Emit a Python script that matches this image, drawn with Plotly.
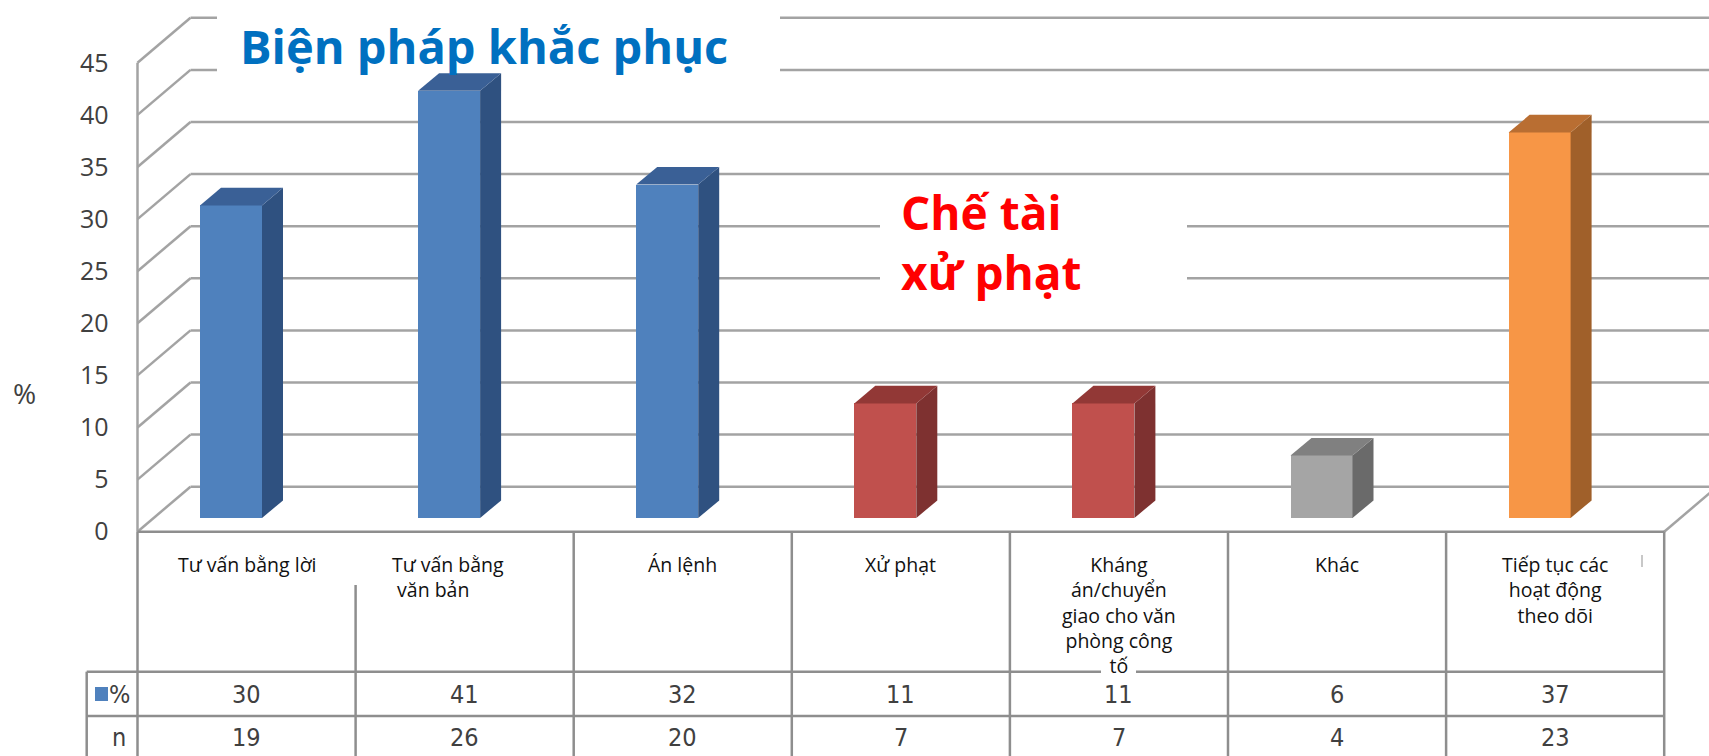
import plotly.graph_objects as go

# ---------------- data ----------------
categories = [
    "Tư vấn bằng lời",
    "Tư vấn bằng<br>\u00a0văn bản",
    "Án lệnh",
    "Xử phạt",
    "Kháng<br>án/chuyển<br>giao cho văn<br>phòng công<br>tố",
    "Khác",
    "Tiếp tục các<br>hoạt động<br>theo dõi",
]
pct = [30, 41, 32, 11, 11, 6, 37]
n_counts = [19, 26, 20, 7, 7, 4, 23]
groups = ["remedy", "remedy", "remedy", "sanction", "sanction", "other", "follow"]
y_ticks = [0, 5, 10, 15, 20, 25, 30, 35, 40, 45]
y_axis_label = "%"
row_labels = ["%", "n"]
title_remedy = "Biện pháp khắc phục"
title_sanction = "Chế tài<br>xử phạt"

# ---------------- styles ----------------
COLORS = {
    "remedy":   dict(front="#4F81BD", side="#2F5180", top="#3A6096"),
    "sanction": dict(front="#C0504D", side="#7E3130", top="#923836"),
    "other":    dict(front="#A5A5A5", side="#6A6A6A", top="#808080"),
    "follow":   dict(front="#F79646", side="#A0602A", top="#B96E32"),
}
GRID_C = "#A3A3A3"
TABLE_C = "#8E8E8E"
TXT_C = "#404040"
NARROW = "Liberation Sans Narrow, DejaVu Sans Condensed, Arial Narrow, Liberation Sans, sans-serif"
OPEN = "Open Sans, Noto Sans, DejaVu Sans, sans-serif"

W, H = 1709, 756
# axis scale (front plane of the 3D box)
X0, SX = 246.55, 218.1    # pixel of category 0 centre, pixels per category
Y0, SY = 531.7, 10.42     # pixel of value 0, pixels per percent


def px_x(p):
    return (p - X0) / SX


def px_y(p):
    return (Y0 - p) / SY


XL, XR = -0.5, len(categories) - 0.5
DDX, DDY = 53 / SX, 45 / SY            # full depth of the box
BAR_SHIFT = (231 - X0) / SX
BAR_W = 62 / SX
BAR_BASE = 13.7 / SY
BDX, BDY = 21 / SX, 17.6 / SY          # depth of a bar

fig = go.Figure()

# front faces of bars
fig.add_trace(go.Bar(
    x=[i + BAR_SHIFT for i in range(len(pct))],
    y=pct,
    base=BAR_BASE,
    width=BAR_W,
    marker=dict(color=[COLORS[g]["front"] for g in groups], line=dict(width=0)),
    hoverinfo="skip",
    showlegend=False,
))

# side and top faces
for i, (v, g) in enumerate(zip(pct, groups)):
    xl = i + BAR_SHIFT - BAR_W / 2
    xr = i + BAR_SHIFT + BAR_W / 2
    yb = BAR_BASE
    yt = BAR_BASE + v
    fig.add_trace(go.Scatter(
        x=[xr, xr + BDX, xr + BDX, xr, xr],
        y=[yb, yb + BDY, yt + BDY, yt, yb],
        fill="toself", fillcolor=COLORS[g]["side"], mode="lines",
        line=dict(width=0, color=COLORS[g]["side"]), hoverinfo="skip", showlegend=False,
    ))
    fig.add_trace(go.Scatter(
        x=[xl, xr, xr + BDX, xl + BDX, xl],
        y=[yt, yt, yt + BDY, yt + BDY, yt],
        fill="toself", fillcolor=COLORS[g]["top"], mode="lines",
        line=dict(width=0, color=COLORS[g]["top"]), hoverinfo="skip", showlegend=False,
    ))

shapes = []
xmax = px_x(W)
# 3D box walls / gridlines
for v in y_ticks:
    shapes.append(dict(type="line", xref="x", yref="y", layer="below",
                       x0=XL, y0=v, x1=XL + DDX, y1=v + DDY,
                       line=dict(color=GRID_C, width=2.5)))
    shapes.append(dict(type="line", xref="x", yref="y", layer="below",
                       x0=XL + DDX, y0=v + DDY, x1=xmax, y1=v + DDY,
                       line=dict(color=GRID_C, width=2.5)))
shapes.append(dict(type="line", xref="x", yref="y", layer="below",
                   x0=XL, y0=0, x1=XL, y1=max(y_ticks),
                   line=dict(color=GRID_C, width=2.5)))
shapes.append(dict(type="line", xref="x", yref="y", layer="below",
                   x0=XR, y0=0, x1=XR + DDX, y1=DDY,
                   line=dict(color=GRID_C, width=2.5)))

# white label boxes over the back wall
shapes.append(dict(type="rect", xref="x", yref="y", layer="below",
                   x0=px_x(217), x1=px_x(780), y0=px_y(0), y1=px_y(86),
                   fillcolor="white", line=dict(width=0)))
shapes.append(dict(type="rect", xref="x", yref="y", layer="below",
                   x0=px_x(880), x1=px_x(1187), y0=px_y(176), y1=px_y(305),
                   fillcolor="white", line=dict(width=0)))

# data table lines
T_TOP, T_R1, T_R2, T_BOT = 531.7, 671.7, 716.0, 760.0
HDR_L = 86.7


def tline(x0, y0, x1, y1):
    shapes.append(dict(type="line", xref="x", yref="y", layer="above",
                       x0=x0, y0=px_y(y0), x1=x1, y1=px_y(y1),
                       line=dict(color=TABLE_C, width=2.5)))


tline(XL, T_TOP, XR, T_TOP)
tline(px_x(HDR_L), T_R1, XR, T_R1)
tline(px_x(HDR_L), T_R2, XR, T_R2)
tline(px_x(HDR_L), T_R1, px_x(HDR_L), T_BOT)
tline(XL, T_TOP, XL, T_BOT)
for k in range(1, len(categories) + 1):
    top = 585 if k == 1 else T_TOP
    tline(XL + k, top, XL + k, T_BOT)
# small gap in row line behind the last line of a label
shapes.append(dict(type="rect", xref="x", yref="y", layer="above",
                   x0=px_x(1101), x1=px_x(1136), y0=px_y(668), y1=px_y(676),
                   fillcolor="white", line=dict(width=0)))
# tiny mark at right of last label cell
shapes.append(dict(type="line", xref="x", yref="y", layer="above",
                   x0=px_x(1642), x1=px_x(1642), y0=px_y(555), y1=px_y(567),
                   line=dict(color="#C8C8C8", width=2)))
# legend key in table header
shapes.append(dict(type="rect", xref="x", yref="y", layer="above",
                   x0=px_x(95), x1=px_x(108), y0=px_y(687), y1=px_y(701),
                   fillcolor=COLORS["remedy"]["front"], line=dict(width=0)))

annotations = []
# category labels
for i, lab in enumerate(categories):
    if i == 1:
        annotations.append(dict(x=px_x(390), y=px_y(549), xref="x", yref="y",
                                text=lab, showarrow=False, xanchor="left", yanchor="top",
                                align="left", font=dict(family=OPEN, size=19.5, color="#111111")))
    else:
        annotations.append(dict(x=i, y=px_y(549), xref="x", yref="y",
                                text=lab, showarrow=False, xanchor="center", yanchor="top",
                                align="center", font=dict(family=OPEN, size=19.5, color="#111111")))
# table values
for i, (p, n) in enumerate(zip(pct, n_counts)):
    annotations.append(dict(x=i, y=px_y(694), xref="x", yref="y", text=str(p),
                            showarrow=False, font=dict(family=NARROW, size=25, color=TXT_C)))
    annotations.append(dict(x=i, y=px_y(737), xref="x", yref="y", text=str(n),
                            showarrow=False, font=dict(family=NARROW, size=25, color=TXT_C)))
# row headers
annotations.append(dict(x=px_x(132), y=px_y(694), xref="x", yref="y", text=row_labels[0],
                        showarrow=False, xanchor="right",
                        font=dict(family=NARROW, size=25, color=TXT_C)))
annotations.append(dict(x=px_x(128), y=px_y(737), xref="x", yref="y", text=row_labels[1],
                        showarrow=False, xanchor="right",
                        font=dict(family=NARROW, size=25, color=TXT_C)))
# axis label
annotations.append(dict(x=px_x(24), y=px_y(393), xref="x", yref="y", text=y_axis_label,
                        showarrow=False, font=dict(family=OPEN, size=28, color=TXT_C)))
# overlay titles
annotations.append(dict(x=px_x(238), y=px_y(46), xref="x", yref="y", text=title_remedy,
                        showarrow=False, xanchor="left", yanchor="middle",
                        font=dict(family=OPEN, size=47, color="#0070C0", weight="bold")))
annotations.append(dict(x=px_x(899), y=px_y(242), xref="x", yref="y", text=title_sanction,
                        showarrow=False, xanchor="left", yanchor="middle", align="left",
                        font=dict(family=OPEN, size=46, color="#FF0000", weight="bold")))

fig.update_layout(
    width=W, height=H, autosize=False,
    margin=dict(l=0, r=0, t=0, b=0, pad=0),
    paper_bgcolor="white", plot_bgcolor="white",
    showlegend=False,
    shapes=shapes,
    annotations=annotations,
    xaxis=dict(range=[px_x(0), px_x(W)], domain=[0, 1], visible=True,
               showgrid=False, zeroline=False, showticklabels=False, showline=False,
               ticks="", fixedrange=True),
    yaxis=dict(range=[px_y(H), px_y(0)], domain=[0, 1], anchor="free", position=137.5 / W,
               side="left", tickmode="array", tickvals=y_ticks,
               ticktext=[str(t) for t in y_ticks],
               ticks="outside", ticklen=24, tickcolor="rgba(0,0,0,0)",
               showgrid=False, zeroline=False, showline=False,
               tickfont=dict(family=OPEN, size=25, color=TXT_C), fixedrange=True),
    bargap=0,
)

fig.write_html("out.html", config={"displayModeBar": False},
               post_script="document.body.style.margin='0';document.body.style.overflow='hidden';")
